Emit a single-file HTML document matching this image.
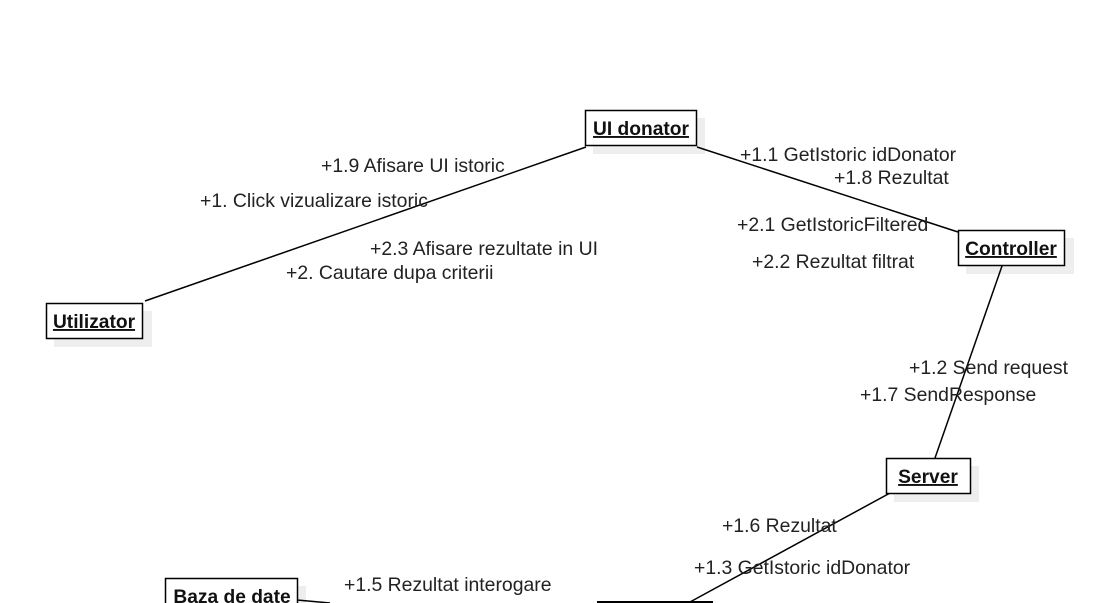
<!DOCTYPE html>
<html><head><meta charset="utf-8"><style>
html,body{margin:0;padding:0;background:#fff;overflow:hidden}
svg{display:block;font-family:"Liberation Sans",sans-serif}
.lbl{font-size:19.4px;fill:#222}
.bx{font-size:19.2px;font-weight:bold;text-decoration:underline;fill:#111}
</style></head><body>
<svg width="1096" height="603" viewBox="0 0 1096 603">
<g fill="#eee">
<rect x="593" y="118" width="112" height="36"/>
<rect x="966" y="238" width="108" height="36"/>
<rect x="54" y="311" width="98" height="36"/>
<rect x="894" y="466" width="85" height="36"/>
<rect x="173" y="586" width="133" height="20"/>
</g>
<g stroke="#000" stroke-width="1.5">
<line x1="145" y1="301" x2="586" y2="147"/>
<line x1="697" y1="147" x2="958" y2="232"/>
<line x1="1002" y1="266" x2="935" y2="458"/>
<line x1="890" y1="493" x2="690" y2="602"/>
<line x1="297" y1="600" x2="330" y2="603"/>
</g>
<g>
<g>
<rect x="585.5" y="110.5" width="111" height="35" fill="#fff" stroke="#000" stroke-width="1.5"/>
<text class="bx" x="641" y="135" text-anchor="middle">UI donator</text></g>
<g>
<rect x="958.5" y="230.5" width="106" height="35" fill="#fff" stroke="#000" stroke-width="1.5"/>
<text class="bx" x="1011" y="255" text-anchor="middle">Controller</text></g>
<g>
<rect x="46.5" y="303.5" width="96" height="35" fill="#fff" stroke="#000" stroke-width="1.5"/>
<text class="bx" x="94" y="328" text-anchor="middle">Utilizator</text></g>
<g>
<rect x="886.5" y="458.5" width="84" height="35" fill="#fff" stroke="#000" stroke-width="1.5"/>
<text class="bx" x="928" y="483" text-anchor="middle">Server</text></g>
<g>
<rect x="165.5" y="578.5" width="132" height="30" fill="#fff" stroke="#000" stroke-width="1.5"/>
<text class="bx" x="232" y="603" text-anchor="middle">Baza de date</text></g>
<line x1="597" y1="602" x2="713" y2="602" stroke="#000" stroke-width="2"/>
</g>
<g class="lbl">
<text x="321" y="172">+1.9 Afisare UI istoric</text>
<text x="200" y="207">+1. Click vizualizare istoric</text>
<text x="370" y="255">+2.3 Afisare rezultate in UI</text>
<text x="286" y="279">+2. Cautare dupa criterii</text>
<text x="740" y="161">+1.1 GetIstoric idDonator</text>
<text x="834" y="184">+1.8 Rezultat</text>
<text x="737" y="231">+2.1 GetIstoricFiltered</text>
<text x="752" y="268">+2.2 Rezultat filtrat</text>
<text x="909" y="374">+1.2 Send request</text>
<text x="860" y="401">+1.7 SendResponse</text>
<text x="722" y="532">+1.6 Rezultat</text>
<text x="694" y="574">+1.3 GetIstoric idDonator</text>
<text x="344" y="591">+1.5 Rezultat interogare</text>
</g>
</svg>
</body></html>
